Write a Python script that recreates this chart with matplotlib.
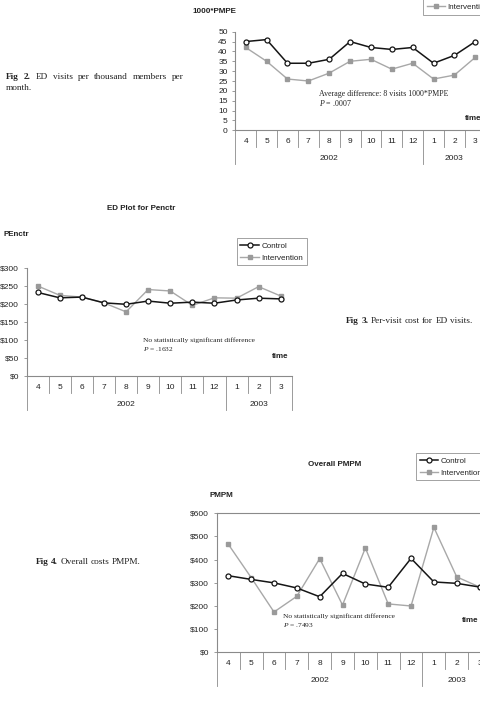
import matplotlib
matplotlib.use('Agg')
import matplotlib.pyplot as plt
from matplotlib.lines import Line2D
from matplotlib.transforms import blended_transform_factory

plt.rcParams['font.family'] = 'Liberation Sans'
plt.rcParams['mathtext.fontset'] = 'custom'
plt.rcParams['mathtext.rm'] = 'Liberation Serif'
plt.rcParams['mathtext.it'] = 'Liberation Serif:italic'

W, H = 480, 703

# categories (month / year)
months = ['4', '5', '6', '7', '8', '9', '10', '11', '12', '1', '2', '3']
years = ['2002', '2003']
year_spans = [(0, 8), (9, 11)]

# ED visits per 1000 members per month
pmpe_control = [45, 46, 34, 34, 36, 45, 42, 41, 42, 34, 38, 45]
pmpe_interv = [42, 35, 26, 25, 29, 35, 36, 31, 34, 26, 28, 37]

# per-visit cost
penctr_control = [233, 218, 220, 204, 200, 209, 203, 206, 203, 212, 217, 215]
penctr_interv = [251, 225, 220, 204, 179, 241, 237, 197, 218, 217, 249, 223]

# overall PMPM
pmpm_control = [330, 314, 299, 277, 239, 340, 294, 280, 405, 303, 297, 281]
pmpm_interv = [466, 322, 173, 241, 404, 203, 450, 208, 199, 539, 325, 281]

GRID = '#8a8a8a'
TXT = '#222222'
CTRL = dict(color='#151515', lw=1.1, marker='o', ms=3.6, mfc='white', mec='#151515', mew=0.9)
INTV = dict(color='#a8a8a8', lw=1.0, marker='s', ms=3.0, mfc='#9a9a9a', mec='#9a9a9a')

fig = plt.figure(figsize=(W / 100, H / 100), dpi=100)


def fx(px):
    return px / W


def fy(py):
    return 1 - py / H


def chart(left, top, step, height, ylim, yticks, fmt, ctrl, intv, boxed=False):
    ax = fig.add_axes([fx(left), fy(top + height), 12 * step / W, height / H])
    ax.patch.set_alpha(0)
    x = range(len(months))
    ax.plot(x, intv, clip_on=False, zorder=3, **INTV)
    ax.plot(x, ctrl, clip_on=False, zorder=4, **CTRL)
    ax.set_xlim(-0.5, 11.5)
    ax.set_ylim(*ylim)
    ax.set_xticks([])
    ax.set_yticks(yticks)
    ax.set_yticklabels([fmt.format(v) for v in yticks])
    ax.tick_params(axis='y', length=2.5, width=0.6, color=GRID, pad=3,
                   labelsize=6.0, labelcolor=TXT)
    for s in ['left', 'bottom', 'top', 'right']:
        ax.spines[s].set_color(GRID)
        ax.spines[s].set_linewidth(0.8)
    if not boxed:
        ax.spines['top'].set_visible(False)
        ax.spines['right'].set_visible(False)

    # two-level category axis drawn below the plot
    trans = blended_transform_factory(ax.transData, ax.transAxes)

    def f(d):
        return -d / height

    for i, m in enumerate(months):
        ax.text(i, f(11.5), m, transform=trans, ha='center', va='center',
                fontsize=6.0, color=TXT)
    for k in range(13):
        xb = k - 0.5
        d = 34 if k in (0, 9, 12) else 17
        ax.add_line(Line2D([xb, xb], [0, f(d)], transform=trans, color=GRID,
                           lw=0.6, clip_on=False))
    for name, (a, b) in zip(years, year_spans):
        ax.text((a + b) / 2, f(28), name, transform=trans, ha='center',
                va='center', fontsize=6.0, color=TXT)
    return ax


def legend(x, y, loc):
    handles = [Line2D([], [], **CTRL), Line2D([], [], **INTV)]
    leg = fig.legend(handles, ['Control', 'Intervention'], loc=loc,
                     bbox_to_anchor=(fx(x), fy(y)), bbox_transform=fig.transFigure,
                     fontsize=5.8, frameon=True, fancybox=False, borderaxespad=0,
                     handlelength=2.3, handletextpad=0.3, borderpad=0.45,
                     labelspacing=0.55)
    leg.get_frame().set_edgecolor('#777777')
    leg.get_frame().set_linewidth(0.6)
    for t in leg.get_texts():
        t.set_color(TXT)


def label(x, y, s, **kw):
    kw.setdefault('fontsize', 5.8)
    kw.setdefault('color', TXT)
    kw.setdefault('va', 'center')
    fig.text(fx(x), fy(y), s, **kw)


def serif(x, y, s, size=5.6):
    label(x, y, s, family='Liberation Serif', fontsize=size)


fig.canvas.draw()
renderer = fig.canvas.get_renderer()
CAP = 6.7


def caption(x, y, words, x_end=None, bold_first=2):
    # words laid out one by one; justified when x_end is given
    objs = []
    for i, w in enumerate(words):
        t = fig.text(0, fy(y), w, family='Liberation Serif', fontsize=CAP,
                     color=TXT, va='center',
                     weight='bold' if i < bold_first else 'normal')
        objs.append(t)
    widths = [t.get_window_extent(renderer).width for t in objs]
    space = fig.text(0, 0, 'a a', family='Liberation Serif', fontsize=CAP)
    sp = space.get_window_extent(renderer).width
    space.set_text('aa')
    sp -= space.get_window_extent(renderer).width
    space.remove()
    gap = sp if x_end is None else (x_end - x - sum(widths)) / (len(words) - 1)
    xx = x
    for t, wd in zip(objs, widths):
        t.set_x(fx(xx))
        xx += wd + gap


# ---- Fig 2 ----
chart(235.3, 31.7, 20.87, 98.6, (0, 50), list(range(0, 55, 5)), '{}',
      pmpe_control, pmpe_interv)
legend(423, 14.7, 'lower left')
label(192, 11.7, '1000*PMPE', weight='bold')
serif(319, 94.3, 'Average difference: 8 visits 1000*PMPE', 5.7)
serif(319, 103, r'$\mathit{P}$ = .0007', 5.7)
label(465, 118, 'time', weight='bold')
caption(6, 76.7, ['Fig', '2.', 'ED', 'visits', 'per', 'thousand', 'members', 'per'],
        x_end=184)
caption(6, 87.7, ['month.'], bold_first=0)

# ---- Fig 3 ----
chart(26.6, 268.3, 22.1, 108, (0, 300), list(range(0, 350, 50)), '${}',
      penctr_control, penctr_interv)
legend(236.7, 238.3, 'upper left')
label(140.7, 208.3, 'ED Plot for Penctr', weight='bold', ha='center')
label(4, 235, 'PEnctr', weight='bold')
serif(142.7, 340.3, 'No statistically significant difference', 5.4)
serif(142.7, 349.3, r'$\mathit{P}$ = .1632', 5.4)
label(271.7, 356.7, 'time', weight='bold')
caption(346, 321, ['Fig', '3.', 'Per-visit', 'cost', 'for', 'ED', 'visits.'])

# ---- Fig 4 ----
chart(216.9, 513.3, 22.84, 138.7, (0, 600), list(range(0, 700, 100)), '${}',
      pmpm_control, pmpm_interv, boxed=True)
legend(416, 453.3, 'upper left')
label(335, 464, 'Overall PMPM', weight='bold', ha='center')
label(209.3, 495.7, 'PMPM', weight='bold')
serif(283.3, 615.7, 'No statistically significant difference', 5.4)
serif(283.3, 625, r'$\mathit{P}$ = .7493', 5.4)
label(462.3, 620, 'time', weight='bold')
caption(35.7, 562, ['Fig', '4.', 'Overall', 'costs', 'PMPM.'])

fig.savefig('out.png', dpi=100)
